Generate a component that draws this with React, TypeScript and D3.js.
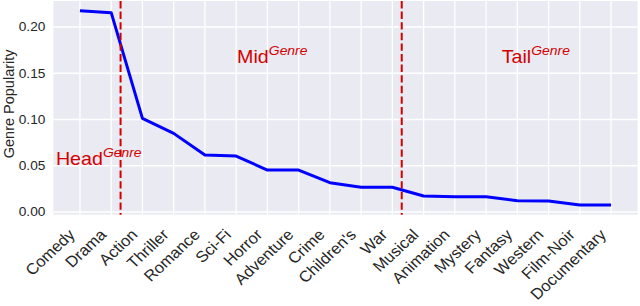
import React from 'react';
import * as d3 from 'd3';

const genres = ['Comedy', 'Drama', 'Action', 'Thriller', 'Romance', 'Sci-Fi', 'Horror', 'Adventure', 'Crime',
    "Children's", 'War', 'Musical', 'Animation', 'Mystery', 'Fantasy', 'Western', 'Film-Noir', 'Documentary'];
const popularity = [0.2176, 0.2155, 0.1013, 0.085, 0.0616, 0.0605, 0.0454, 0.0454, 0.0317,
    0.0267, 0.0267, 0.0173, 0.0166, 0.0166, 0.0122, 0.0119, 0.0076, 0.0076];
const yTicks = [0, 0.05, 0.1, 0.15, 0.2];
const splits = [1.3, 10.3];
const regions = [
    { name: 'Head', x: -0.77, y: 0.051 },
    { name: 'Mid', x: 5.03, y: 0.161 },
    { name: 'Tail', x: 13.5, y: 0.161 },
];

const width = 640;
const height = 306;
const marginLeft = 53.4;
const marginRight = 2.4;
const marginTop = 1;
const marginBottom = 91.3;
const font = "'Liberation Sans', Arial, sans-serif";
const red = '#d40000';
// the reference looks a little stretched sideways
const sx = 1.07;

const App: React.FC = () => {
    const n = genres.length;
    const x = d3.scaleLinear().domain([-0.05 * (n - 1), (n - 1) * 1.05])
        .range([marginLeft, width - marginRight]);
    const [lo, hi] = d3.extent(popularity) as [number, number];
    const pad = (hi - lo) * 0.05;
    const y = d3.scaleLinear().domain([lo - pad, hi + pad])
        .range([height - marginBottom, marginTop]);
    const line = d3.line<number>((d, i) => x(i), y);
    const [y0, y1] = y.range();
    return (
        <svg width={width} height={height} style={{ position: 'absolute', left: 0, top: 0 }}>
            <rect x={marginLeft} y={marginTop} width={width - marginLeft - marginRight}
                height={y0 - y1} fill="#EAEAF2" />
            <g stroke="white" strokeWidth={1.3}>
                {yTicks.map(t => <line key={t} x1={marginLeft} x2={width - marginRight} y1={y(t)} y2={y(t)} />)}
                {genres.map((g, i) => <line key={g} x1={x(i)} x2={x(i)} y1={y1} y2={y0} />)}
            </g>
            <g fontFamily={font} fontSize={12.8} fill="#262626" textAnchor="end">
                {yTicks.map(t => (
                    <text key={t} transform={`translate(${marginLeft - 8},${y(t)}) scale(${sx},1)`}
                        dy="0.35em">{d3.format('.2f')(t)}</text>
                ))}
            </g>
            <g fontFamily={font} fontSize={15.5} fill="#262626" textAnchor="end">
                {genres.map((g, i) => (
                    <text key={g} transform={`translate(${x(i) - 4},${y0 + 21}) scale(${sx},1) rotate(-45)`}>{g}</text>
                ))}
            </g>
            <text transform={`translate(13.5,${(y0 + y1) / 2 - 4}) rotate(-90)`} textAnchor="middle"
                fontFamily={font} fontSize={14.5} fill="#262626">Genre Popularity</text>
            <path fill="none" stroke="#0000FF" strokeWidth={3} strokeLinejoin="round" d={line(popularity) ?? ''} />
            <g stroke={red} strokeWidth={2} strokeDasharray="7.4 3.2">
                {splits.map(s => <line key={s} x1={x(s)} x2={x(s)} y1={y1} y2={y0} />)}
            </g>
            <g fontFamily={font} fill={red}>
                {regions.map(r => (
                    <text key={r.name} transform={`translate(${x(r.x)},${y(r.y)}) scale(${sx},1)`} fontSize={18.4}>
                        {r.name}
                        <tspan fontSize={13} fontStyle="italic" dy={-8}>Genre</tspan>
                    </text>
                ))}
            </g>
        </svg>
    );
};

export default App;
